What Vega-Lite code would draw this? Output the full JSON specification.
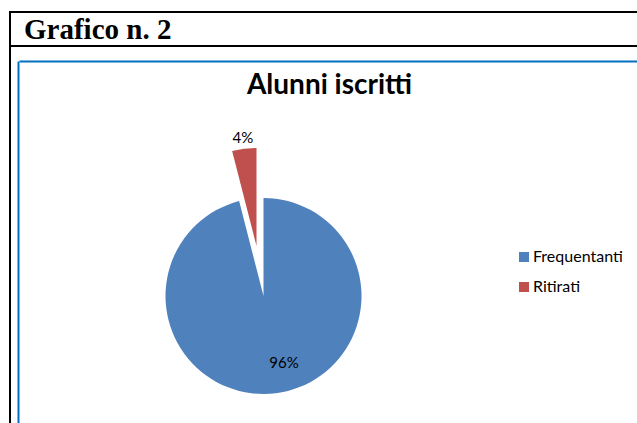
{
  "$schema": "https://vega.github.io/schema/vega-lite/v6.json",
  "padding": {"left": 9, "top": 11, "right": 0, "bottom": 0},
  "background": "white",
  "bounds": "flush",
  "spacing": 0,
  "config": {"view": {"stroke": null}, "font": "Lato"},
  "vconcat": [
    {
      "width": 640,
      "height": 34,
      "view": {"stroke": "black", "strokeWidth": 2},
      "data": {"values": [{"intestazione": "Grafico n. 2"}]},
      "mark": {"type": "text", "align": "left", "baseline": "alphabetic", "dx": 14, "dy": 10, "font": "Liberation Serif", "fontSize": 29, "fontWeight": "bold", "color": "black"},
      "encoding": {
        "text": {"field": "intestazione", "type": "nominal"},
        "x": {"datum": 0, "type": "quantitative", "scale": {"domain": [0, 1]}, "axis": null}
      }
    },
    {
      "width": 661,
      "height": 485,
      "view": {"stroke": "black", "strokeWidth": 2},
      "title": {"text": "Alunni iscritti", "anchor": "middle", "dx": -11, "offset": -54, "font": "Lato", "fontSize": 28, "fontWeight": "bold", "color": "black"},
      "data": {"values": [
        {"categoria": "Frequentanti", "quota": 0.96},
        {"categoria": "Ritirati", "quota": 0.04}
      ]},
      "encoding": {
        "x": {"datum": 0.375, "type": "quantitative", "scale": {"domain": [0, 1], "range": [9, 661]},
              "axis": {"orient": "top", "offset": -15, "domain": true, "domainColor": "#0070C0", "domainWidth": 2, "ticks": false, "labels": false, "grid": false, "title": null}},
        "y": {"datum": 0.5, "type": "quantitative", "scale": {"domain": [0, 1], "range": [15, 485]},
              "axis": {"orient": "left", "offset": -8, "domain": true, "domainColor": "#0070C0", "domainWidth": 2, "ticks": false, "labels": false, "grid": false, "title": null}},
        "theta": {"field": "quota", "type": "quantitative", "stack": true}
      },
      "layer": [
        {
          "mark": {"type": "arc", "radius": 98},
          "encoding": {
            "color": {"field": "categoria", "type": "nominal",
                      "scale": {"domain": ["Frequentanti", "Ritirati"], "range": ["#4F81BD", "#C0504D"]},
                      "legend": {"orient": "none", "legendX": 506, "legendY": 237, "title": null, "symbolType": "square", "symbolSize": 100, "symbolStrokeWidth": 0, "labelFont": "Lato", "labelFontSize": 16, "labelColor": "black", "rowPadding": 14, "labelOffset": 1}},
            "opacity": {"condition": {"test": "datum.categoria === 'Frequentanti'", "value": 1}, "value": 0}
          }
        },
        {
          "mark": {"type": "arc", "radius": 98, "xOffset": -7, "yOffset": -50},
          "encoding": {
            "color": {"field": "categoria", "type": "nominal"},
            "opacity": {"condition": {"test": "datum.categoria === 'Ritirati'", "value": 1}, "value": 0}
          }
        },
        {
          "mark": {"type": "text", "radius": 68, "dx": 12, "baseline": "middle", "font": "Lato", "fontSize": 15, "color": "black"},
          "encoding": {
            "order": {"field": "categoria", "type": "ordinal", "sort": "ascending"},
            "text": {"field": "quota", "type": "quantitative", "format": ".0%"},
            "opacity": {"condition": {"test": "datum.categoria === 'Frequentanti'", "value": 1}, "value": 0}
          }
        },
        {
          "mark": {"type": "text", "radius": 109, "xOffset": -7, "yOffset": -50, "baseline": "middle", "font": "Lato", "fontSize": 15, "color": "black"},
          "encoding": {
            "order": {"field": "categoria", "type": "ordinal", "sort": "ascending"},
            "text": {"field": "quota", "type": "quantitative", "format": ".0%"},
            "opacity": {"condition": {"test": "datum.categoria === 'Ritirati'", "value": 1}, "value": 0}
          }
        }
      ]
    }
  ]
}
